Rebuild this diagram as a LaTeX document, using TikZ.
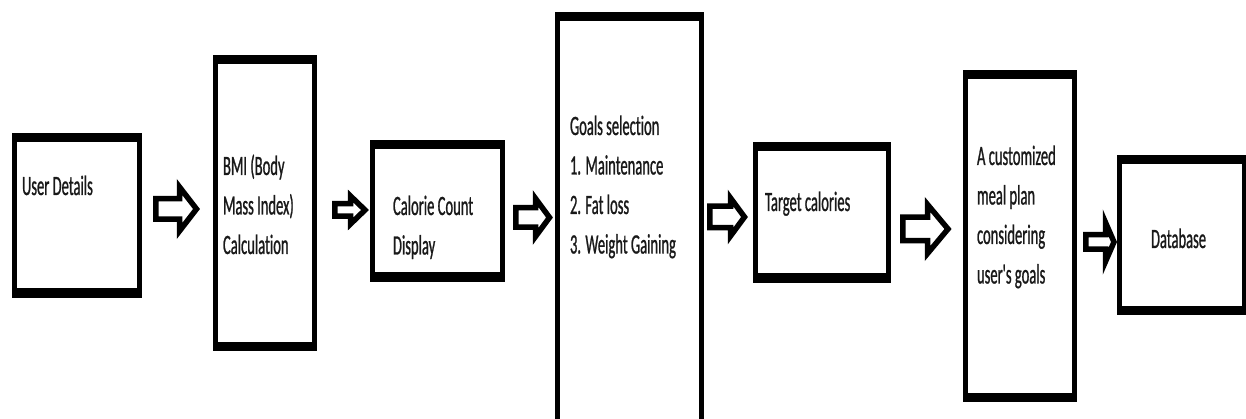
\documentclass[tikz,border=0pt]{standalone}
\usepackage{fontspec}
\usetikzlibrary{calc}
% narrow Calibri-like face used for all labels
\newfontfamily\labelfont[FakeStretch=0.52, FakeBold=0.8, Ligatures=NoCommon]{Carlito}
\newcommand\lines[1]{\vtop{\baselineskip=39.5pt\lineskiplimit=-100pt #1}}
\tikzset{
  % box with heavy top/bottom rules and lighter side rules
  frame/.style={fill=black, inner sep=0pt, outer sep=0pt,
    path picture={\fill[white]
      ([xshift=5pt,yshift=-9.5pt]path picture bounding box.north west) rectangle
      ([xshift=-5pt,yshift=9.5pt]path picture bounding box.south east);}},
  label/.style={anchor=base west, inner sep=0pt, outer sep=0pt,
    font=\labelfont\fontsize{28}{39.5}\selectfont, text=black!90},
  ba shaft/.initial=10,
  ba head/.initial=20,
  ba neck/.initial=15,
  % hollow block arrow between two points
  blockarrow/.style={draw=black, fill=white, line width=5.5pt,
    to path={let \p1=(\tikztostart), \p2=(\tikztotarget),
      \n1={\pgfkeysvalueof{/tikz/ba shaft}},
      \n2={\pgfkeysvalueof{/tikz/ba head}},
      \n3={\x2-\pgfkeysvalueof{/tikz/ba neck}*1pt}
      in (\x1,{\y1+\n1*1pt}) -- ({\n3*1pt},{\y1+\n1*1pt}) -- ({\n3*1pt},{\y1+\n2*1pt})
      -- (\x2,\y2) -- ({\n3*1pt},{\y1-\n2*1pt}) -- ({\n3*1pt},{\y1-\n1*1pt})
      -- (\x1,{\y1-\n1*1pt}) -- cycle}},
}
\begin{document}
\begin{tikzpicture}[x=1pt, y=-1pt]
\useasboundingbox (0,0) rectangle (1246,419);
\clip (0,0) rectangle (1246,419);

% process boxes
\node[frame, minimum width=130pt, minimum height=165pt] (b1) at (77,215.5) {};
\node[frame, minimum width=104pt, minimum height=296pt] (b2) at (265,203) {};
\node[frame, minimum width=135pt, minimum height=142pt] (b3) at (437.5,211) {};
\node[frame, minimum width=149pt, minimum height=418pt] (b4) at (629.5,221) {};
\node[frame, minimum width=138pt, minimum height=141pt] (b5) at (822,212.5) {};
\node[frame, minimum width=114pt, minimum height=332pt] (b6) at (1020,236) {};
\node[frame, minimum width=130pt, minimum height=160pt] (b7) at (1182,235) {};

% box texts
\node[label] (t1) at (22,195) {User Details};
\node[label] (t2) at (223,175) {\lines{\hbox{BMI (Body}\hbox{Mass Index)}\hbox{Calculation}}};
\node[label] (t3) at (393,215) {\lines{\hbox{Calorie Count}\hbox{Display}}};
\node[label] (t4) at (570,135) {\lines{\hbox{Goals selection}\hbox{1. Maintenance}\hbox{2. Fat loss}\hbox{3. Weight Gaining}}};
\node[label] (t5) at (765,211) {Target calories};
\node[label] (t6) at (977,165) {\lines{\hbox{A customized}\hbox{meal plan}\hbox{considering}\hbox{user's goals}}};
\node[label] (t7) at (1151,248) {Database};

% arrow end points
\coordinate (a1s) at (155.75,209);  \coordinate (a1e) at (196.5,209);
\coordinate (a2s) at (334.75,210);  \coordinate (a2e) at (365,210);
\coordinate (a3s) at (515.75,217.5);\coordinate (a3e) at (549.5,217.5);
\coordinate (a4s) at (709.75,217);  \coordinate (a4e) at (744.5,217);
\coordinate (a5s) at (902.75,229);  \coordinate (a5e) at (948,229);
\coordinate (a6s) at (1085.75,242); \coordinate (a6e) at (1114,242);

% flow arrows
\draw[blockarrow, ba shaft=10.25, ba head=22, ba neck=17] (a1s) to (a1e);
\draw[blockarrow, ba shaft=6.25, ba head=14, ba neck=14.5] (a2s) to (a2e);
\draw[blockarrow, ba shaft=9.75, ba head=19, ba neck=14] (a3s) to (a3e);
\draw[blockarrow, ba shaft=10.75, ba head=19, ba neck=14] (a4s) to (a4e);
\draw[blockarrow, ba shaft=11.75, ba head=24.5, ba neck=20.5] (a5s) to (a5e);
\draw[blockarrow, ba shaft=7.25, ba head=19.5, ba neck=8.5] (a6s) to (a6e);
\end{tikzpicture}
\end{document}
